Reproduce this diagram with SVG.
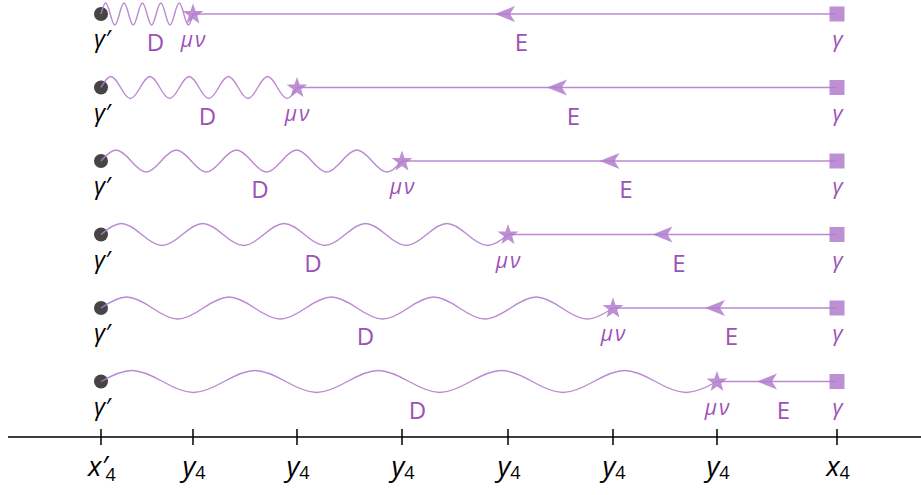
<svg xmlns="http://www.w3.org/2000/svg" xmlns:xlink="http://www.w3.org/1999/xlink" width="921" height="495" viewBox="0 0 921 495">
<style>
.wave{fill:none;stroke:#b27ccd;stroke-width:1.4;opacity:0.9}
.line{fill:none;stroke:#b27ccd;stroke-width:1.4;opacity:0.9}
.shape{fill:#b27ccd;opacity:0.85}
.dot{fill:#454545}
.lbl{font-family:"Open Sans","DejaVu Sans",sans-serif;font-size:24px;fill:#9c52b8;text-anchor:middle}
.mu{font-family:"Open Sans","DejaVu Sans",sans-serif;font-size:21px;font-style:italic;fill:#9c52b8;text-anchor:middle;letter-spacing:2px}
.gp{font-family:"Open Sans","DejaVu Sans",sans-serif;font-size:24px;font-style:italic;fill:#000;text-anchor:middle}
.g{font-family:"Open Sans","DejaVu Sans",sans-serif;font-size:22px;font-style:italic;fill:#9c52b8;text-anchor:middle}
.ax{font-family:"Open Sans","DejaVu Sans",sans-serif;font-size:28px;font-style:italic;fill:#000;text-anchor:middle}
.sub{font-size:18px;font-style:normal}
.axis{stroke:#000;stroke-width:1.5;fill:none}
</style>
<defs>
<path id="star" d="M0,-11 L2.586,-3.56 L10.462,-3.399 L4.184,1.36 L6.466,8.899 L0,4.4 L-6.466,8.899 L-4.184,1.36 L-10.462,-3.399 L-2.586,-3.56 Z"/>
<path id="arr" d="M0,0 L20,-8 L15,0 L20,8 Z"/>
<rect id="sq" x="-7.5" y="-7.5" width="15" height="15"/>
</defs>

<g id="connectors">
<path class="line" d="M193,14 H837"/>
<path class="line" d="M297,87.5 H837"/>
<path class="line" d="M402,161 H837"/>
<path class="line" d="M508,234.5 H837"/>
<path class="line" d="M613,308 H837"/>
<path class="line" d="M717,381.5 H837"/>
<use class="shape" xlink:href="#arr" href="#arr" x="495" y="14"/>
<use class="shape" xlink:href="#arr" href="#arr" x="547" y="87.5"/>
<use class="shape" xlink:href="#arr" href="#arr" x="599.5" y="161"/>
<use class="shape" xlink:href="#arr" href="#arr" x="652.5" y="234.5"/>
<use class="shape" xlink:href="#arr" href="#arr" x="705" y="308"/>
<use class="shape" xlink:href="#arr" href="#arr" x="757" y="381.5"/>
</g>

<g id="dots">
<circle class="dot" cx="101" cy="14" r="7"/>
<circle class="dot" cx="101" cy="87.5" r="7"/>
<circle class="dot" cx="101" cy="161" r="7"/>
<circle class="dot" cx="101" cy="234.5" r="7"/>
<circle class="dot" cx="101" cy="308" r="7"/>
<circle class="dot" cx="101" cy="381.5" r="7"/>
</g>

<g id="waves">
<path class="wave" d="M101,14 c3.905,-14.67 5.295,-14.67 9.2,0 s5.295,14.67 9.2,0 s5.295,-14.67 9.2,0 s5.295,14.67 9.2,0 s5.295,-14.67 9.2,0 s5.295,14.67 9.2,0 s5.295,-14.67 9.2,0 s5.295,14.67 9.2,0 s5.295,-14.67 9.2,0 s5.295,14.67 9.2,0"/>
<path class="wave" d="M101,87.5 c8.318,-14.67 11.282,-14.67 19.6,0 s11.282,14.67 19.6,0 s11.282,-14.67 19.6,0 s11.282,14.67 19.6,0 s11.282,-14.67 19.6,0 s11.282,14.67 19.6,0 s11.282,-14.67 19.6,0 s11.282,14.67 19.6,0 s11.282,-14.67 19.6,0 s11.282,14.67 19.6,0"/>
<path class="wave" d="M101,161 c12.774,-14.67 17.326,-14.67 30.1,0 s17.326,14.67 30.1,0 s17.326,-14.67 30.1,0 s17.326,14.67 30.1,0 s17.326,-14.67 30.1,0 s17.326,14.67 30.1,0 s17.326,-14.67 30.1,0 s17.326,14.67 30.1,0 s17.326,-14.67 30.1,0 s17.326,14.67 30.1,0"/>
<path class="wave" d="M101,234.5 c17.273,-14.67 23.427,-14.67 40.7,0 s23.427,14.67 40.7,0 s23.427,-14.67 40.7,0 s23.427,14.67 40.7,0 s23.427,-14.67 40.7,0 s23.427,14.67 40.7,0 s23.427,-14.67 40.7,0 s23.427,14.67 40.7,0 s23.427,-14.67 40.7,0 s23.427,14.67 40.7,0"/>
<path class="wave" d="M101,308 c21.729,-14.67 29.471,-14.67 51.2,0 s29.471,14.67 51.2,0 s29.471,-14.67 51.2,0 s29.471,14.67 51.2,0 s29.471,-14.67 51.2,0 s29.471,14.67 51.2,0 s29.471,-14.67 51.2,0 s29.471,14.67 51.2,0 s29.471,-14.67 51.2,0 s29.471,14.67 51.2,0"/>
<path class="wave" d="M101,381.5 c26.143,-14.67 35.457,-14.67 61.6,0 s35.457,14.67 61.6,0 s35.457,-14.67 61.6,0 s35.457,14.67 61.6,0 s35.457,-14.67 61.6,0 s35.457,14.67 61.6,0 s35.457,-14.67 61.6,0 s35.457,14.67 61.6,0 s35.457,-14.67 61.6,0 s35.457,14.67 61.6,0"/>
</g>

<g id="stars">
<use class="shape" xlink:href="#star" href="#star" x="193" y="14.5"/>
<use class="shape" xlink:href="#star" href="#star" x="297" y="88"/>
<use class="shape" xlink:href="#star" href="#star" x="402" y="161.5"/>
<use class="shape" xlink:href="#star" href="#star" x="508" y="235"/>
<use class="shape" xlink:href="#star" href="#star" x="613" y="308.5"/>
<use class="shape" xlink:href="#star" href="#star" x="717" y="382"/>
</g>

<g id="squares">
<use class="shape" xlink:href="#sq" href="#sq" x="837" y="14"/>
<use class="shape" xlink:href="#sq" href="#sq" x="837" y="87.5"/>
<use class="shape" xlink:href="#sq" href="#sq" x="837" y="161"/>
<use class="shape" xlink:href="#sq" href="#sq" x="837" y="234.5"/>
<use class="shape" xlink:href="#sq" href="#sq" x="837" y="308"/>
<use class="shape" xlink:href="#sq" href="#sq" x="837" y="381.5"/>
</g>

<g id="labels">
<text class="gp" x="102" y="47">γ′</text>
<text class="lbl" x="155.5" y="51">D</text>
<text class="mu" x="194" y="47">μν</text>
<text class="lbl" x="521.5" y="51">E</text>
<text class="g" x="837.5" y="47">γ</text>

<text class="gp" x="102" y="120.5">γ′</text>
<text class="lbl" x="207.5" y="124.5">D</text>
<text class="mu" x="298" y="120.5">μν</text>
<text class="lbl" x="573.5" y="124.5">E</text>
<text class="g" x="837.5" y="120.5">γ</text>

<text class="gp" x="102" y="194">γ′</text>
<text class="lbl" x="260" y="198">D</text>
<text class="mu" x="403" y="194">μν</text>
<text class="lbl" x="626" y="198">E</text>
<text class="g" x="837.5" y="194">γ</text>

<text class="gp" x="102" y="267.5">γ′</text>
<text class="lbl" x="313" y="271.5">D</text>
<text class="mu" x="509" y="267.5">μν</text>
<text class="lbl" x="679" y="271.5">E</text>
<text class="g" x="837.5" y="267.5">γ</text>

<text class="gp" x="102" y="341">γ′</text>
<text class="lbl" x="365.5" y="345">D</text>
<text class="mu" x="614" y="341">μν</text>
<text class="lbl" x="731.5" y="345">E</text>
<text class="g" x="837.5" y="341">γ</text>

<text class="gp" x="102" y="414.5">γ′</text>
<text class="lbl" x="417.5" y="418.5">D</text>
<text class="mu" x="718" y="414.5">μν</text>
<text class="lbl" x="783.5" y="418.5">E</text>
<text class="g" x="837.5" y="414.5">γ</text>
</g>

<g id="axis">
<path class="axis" d="M8,437 H921 M101,429 V445 M193,429 V445 M297,429 V445 M402,429 V445 M508,429 V445 M613,429 V445 M717,429 V445 M837,429 V445"/>
<text class="ax" x="102" y="476">x′<tspan class="sub" dx="-2" dy="5">4</tspan></text>
<text class="ax" x="194" y="476">y<tspan class="sub" dy="3">4</tspan></text>
<text class="ax" x="298" y="476">y<tspan class="sub" dy="3">4</tspan></text>
<text class="ax" x="403" y="476">y<tspan class="sub" dy="3">4</tspan></text>
<text class="ax" x="509" y="476">y<tspan class="sub" dy="3">4</tspan></text>
<text class="ax" x="614" y="476">y<tspan class="sub" dy="3">4</tspan></text>
<text class="ax" x="718" y="476">y<tspan class="sub" dy="3">4</tspan></text>
<text class="ax" x="838" y="476">x<tspan class="sub" dy="3">4</tspan></text>
</g>
</svg>
